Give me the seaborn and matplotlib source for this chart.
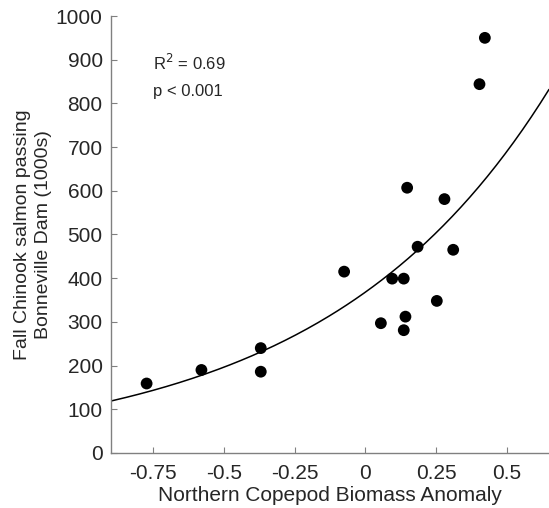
import numpy as np
import pandas as pd
import matplotlib
matplotlib.use("Agg")
import matplotlib.pyplot as plt
import seaborn as sns

# Valores
copepod_anomaly = [-0.774, -0.580, -0.370, -0.370, -0.075, 0.055, 0.095, 0.136, 0.142,
                   0.136, 0.148, 0.185, 0.253, 0.280, 0.311, 0.404, 0.423]
chinook_1000s = [159, 190, 240, 186, 415, 297, 399, 399, 312,
                 281, 607, 472, 348, 581, 465, 844, 950]

# Ajuste exponencial y = a * exp(b * x) (coeficientes)
fit_a = 368
fit_b = 1.255
fit_range = [-0.9, 0.65]

r2_text = "R$^2$ = 0.69"
p_text = "p < 0.001"

sns.set_style("ticks")
plt.rcParams['font.family'] = ['Liberation Sans', 'DejaVu Sans']

df = pd.DataFrame({"x": copepod_anomaly, "y": chinook_1000s})
xs = np.linspace(fit_range[0], fit_range[1], 200)
curve = pd.DataFrame({"x": xs, "y": fit_a * np.exp(fit_b * xs)})

fig = plt.figure(figsize=(5.49, 5.08), dpi=100)
ax = fig.add_axes([0.2022, 0.1083, 0.7978, 0.8602])

sns.lineplot(data=curve, x="x", y="y", color="black", linewidth=1.1, ax=ax)
sns.scatterplot(data=df, x="x", y="y", color="black", s=72, edgecolor="none", ax=ax, zorder=3)

ax.set_xlim(-0.9, 0.65)
ax.set_ylim(0, 1000)
ax.set_xticks([-0.75, -0.5, -0.25, 0, 0.25, 0.5])
ax.set_xticklabels(["-0.75", "-0.5", "-0.25", "0", "0.25", "0.5"])
ax.set_yticks(range(0, 1001, 100))

ax.set_xlabel("Northern Copepod Biomass Anomaly", fontsize=15, labelpad=2)
ax.set_ylabel("Fall Chinook salmon passing\nBonneville Dam (1000s)", fontsize=14, labelpad=3,
              linespacing=1.25)

ax.tick_params(direction="in", length=4, width=0.8, color="#808080", labelsize=15)
ax.tick_params(axis="x", pad=8)
ax.tick_params(axis="y", pad=6)
for side in ["top", "right"]:
    ax.spines[side].set_visible(False)
for side in ["left", "bottom"]:
    ax.spines[side].set_color("#808080")
    ax.spines[side].set_linewidth(1.0)

ax.text(-0.75, 893, r2_text, fontsize=12, va="center", ha="left")
ax.text(-0.75, 828, p_text, fontsize=12, va="center", ha="left")

fig.savefig("out.png", dpi=100)
